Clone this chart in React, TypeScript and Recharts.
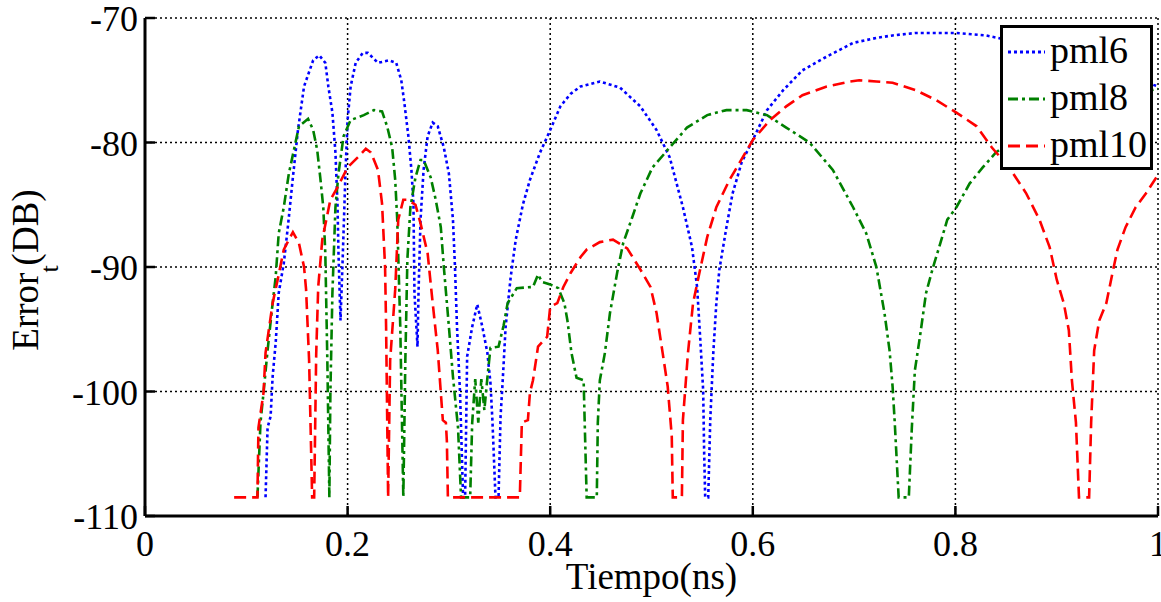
import React from 'react';
import { LineChart, Line, XAxis, YAxis, CartesianGrid, Legend, Label } from 'recharts';

// ---- Data ----
const pml6X = [0.119, 0.121, 0.124, 0.126, 0.129, 0.132, 0.137, 0.141, 0.146, 0.151, 0.157, 0.166, 0.172, 0.178, 0.181, 0.185, 0.188, 0.190, 0.191, 0.193, 0.195, 0.198, 0.2, 0.203, 0.208, 0.215, 0.220, 0.230, 0.241, 0.248, 0.253, 0.256, 0.260, 0.263, 0.265, 0.266, 0.269, 0.270, 0.272, 0.275, 0.279, 0.284, 0.289, 0.295, 0.300, 0.304, 0.306, 0.308, 0.311, 0.314, 0.316, 0.318, 0.323, 0.328, 0.333, 0.338, 0.341, 0.343, 0.346, 0.349, 0.351, 0.353, 0.356, 0.361, 0.366, 0.373, 0.380, 0.390, 0.400, 0.410, 0.420, 0.430, 0.449, 0.469, 0.489, 0.505, 0.518, 0.531, 0.540, 0.545, 0.548, 0.551, 0.552, 0.553, 0.556, 0.558, 0.561, 0.564, 0.567, 0.574, 0.580, 0.589, 0.600, 0.614, 0.630, 0.649, 0.673, 0.699, 0.722, 0.738, 0.761, 0.801, 0.830, 0.842, 0.870, 0.900, 0.930, 0.960, 1.0];
const pml6Y = [-108.5, -102.9, -102, -98.8, -96.1, -92.1, -89.7, -86.8, -82.8, -79, -75.5, -73.4, -73, -73.6, -75.5, -77.6, -80.8, -84.9, -88.9, -94.3, -89.7, -82.2, -78.2, -75.5, -73.6, -72.8, -72.8, -73.6, -73.4, -73.6, -75, -76.8, -79.5, -82.2, -84.9, -92.1, -96.4, -92.1, -86.2, -82.2, -79.5, -78.4, -78.7, -80.4, -82.5, -86.2, -90, -94.8, -100.1, -108.5, -108.5, -97.2, -94.8, -93, -94.8, -96.9, -99.3, -102.4, -108.5, -108.5, -102, -99.3, -94.8, -90.8, -87.8, -85, -83, -80.8, -79, -77.1, -76.1, -75.5, -75.1, -75.6, -77.1, -79, -81.2, -85.2, -88.4, -91.6, -95.6, -99.9, -105, -108.5, -108.5, -102.3, -96.9, -92.9, -90.2, -86.8, -84.1, -81.6, -79.8, -77.4, -75.8, -74.2, -73.1, -72, -71.6, -71.4, -71.2, -71.2, -71.4, -71.6, -72.1, -72.8, -73.6, -74.4, -75.5];

const pml8X = [0.111, 0.114, 0.117, 0.121, 0.126, 0.129, 0.132, 0.137, 0.142, 0.147, 0.152, 0.161, 0.166, 0.170, 0.173, 0.176, 0.178, 0.180, 0.182, 0.183, 0.185, 0.188, 0.191, 0.196, 0.203, 0.216, 0.226, 0.234, 0.239, 0.244, 0.247, 0.249, 0.252, 0.255, 0.257, 0.259, 0.262, 0.267, 0.272, 0.275, 0.282, 0.287, 0.292, 0.295, 0.300, 0.304, 0.309, 0.312, 0.321, 0.323, 0.326, 0.329, 0.332, 0.335, 0.338, 0.341, 0.349, 0.354, 0.358, 0.367, 0.383, 0.388, 0.392, 0.400, 0.408, 0.414, 0.417, 0.421, 0.426, 0.433, 0.434, 0.436, 0.446, 0.447, 0.449, 0.454, 0.459, 0.466, 0.472, 0.481, 0.489, 0.501, 0.518, 0.535, 0.555, 0.574, 0.594, 0.614, 0.633, 0.656, 0.679, 0.699, 0.712, 0.722, 0.730, 0.735, 0.738, 0.740, 0.744, 0.754, 0.757, 0.760, 0.765, 0.771, 0.778, 0.784, 0.792, 0.801, 0.814, 0.827, 0.840, 0.870, 0.900, 0.950, 1.0];
const pml8Y = [-108.5, -102.5, -100.1, -96.7, -92.9, -90.8, -87.3, -85.2, -82.5, -80.6, -78.7, -78.1, -79, -80.6, -82.8, -85.2, -88.9, -97.5, -108.5, -100.1, -92.1, -85.2, -82.5, -79.5, -78.2, -77.8, -77.4, -77.5, -78.7, -80.4, -83, -86.2, -94.8, -108.5, -97.5, -89.4, -85.2, -82.8, -81.4, -81.4, -82.8, -84.6, -86.8, -90, -94.8, -98.8, -102.9, -108.5, -108.5, -102.5, -99, -102.5, -99, -101.5, -98.9, -96.5, -96.4, -94.7, -92.9, -91.7, -91.6, -90.6, -91.2, -91.4, -91.7, -92.9, -94.3, -96.9, -98.9, -99.1, -102.3, -108.5, -108.5, -102.5, -99.1, -96.9, -93.7, -90.5, -88.1, -86, -84.1, -82, -80.4, -78.8, -77.8, -77.4, -77.4, -77.8, -78.8, -80, -82.2, -85.2, -87.3, -90, -93.7, -96.7, -99.6, -102.3, -108.5, -108.5, -102.9, -98.3, -95.6, -92.1, -90, -88.4, -86.2, -85.2, -83.3, -82, -80.8, -79, -77.8, -76.5, -75.7];

const pml10X = [0.088, 0.111, 0.112, 0.117, 0.119, 0.126, 0.131, 0.137, 0.146, 0.152, 0.157, 0.159, 0.162, 0.165, 0.167, 0.169, 0.171, 0.175, 0.183, 0.190, 0.2, 0.210, 0.218, 0.223, 0.230, 0.234, 0.237, 0.238, 0.240, 0.242, 0.247, 0.25, 0.255, 0.259, 0.267, 0.272, 0.279, 0.284, 0.289, 0.294, 0.297, 0.298, 0.299, 0.370, 0.372, 0.378, 0.380, 0.383, 0.388, 0.397, 0.400, 0.407, 0.413, 0.420, 0.430, 0.436, 0.449, 0.462, 0.476, 0.489, 0.499, 0.505, 0.511, 0.516, 0.520, 0.521, 0.530, 0.531, 0.536, 0.541, 0.548, 0.555, 0.564, 0.577, 0.590, 0.600, 0.617, 0.633, 0.649, 0.673, 0.696, 0.705, 0.722, 0.738, 0.761, 0.781, 0.801, 0.821, 0.836, 0.853, 0.870, 0.883, 0.893, 0.900, 0.907, 0.912, 0.915, 0.919, 0.922, 0.932, 0.934, 0.937, 0.942, 0.949, 0.955, 0.960, 0.968, 0.978, 0.988, 1.0];
const pml10Y = [-108.5, -108.5, -102.9, -100.1, -96.9, -92.9, -91, -88.6, -87.2, -88.1, -90, -91.8, -97.5, -108.5, -108.5, -97, -91.6, -87.8, -84.6, -83.6, -82, -81.2, -80.5, -80.8, -82.2, -84.9, -90, -94.8, -108.5, -97.5, -91.8, -86.2, -84.6, -84.6, -85, -86.5, -88.9, -92.9, -96.7, -102.3, -102.5, -104, -108.5, -108.5, -102.5, -102.3, -100.1, -99.1, -96.4, -95.6, -93.2, -92.9, -91.6, -90.5, -89.2, -88.6, -88, -87.8, -88.5, -90.2, -91.6, -93.7, -96.9, -99.6, -103.6, -108.5, -108.5, -102.3, -96.9, -92.9, -90.2, -87.6, -85.2, -83, -81.2, -79.8, -78.2, -77.1, -76.2, -75.5, -75.1, -75, -75.1, -75.2, -75.8, -76.6, -77.6, -78.7, -80.4, -82, -84.1, -86.2, -88.4, -91, -92.9, -95.1, -99.1, -102.5, -108.5, -108.5, -102.5, -96.7, -94.3, -92.9, -90.5, -88.6, -86.8, -85.2, -84.1, -82.6];

const seriesNames = ['pml6', 'pml8', 'pml10'];
const seriesColors = ['#0000ff', '#008000', '#ff0000'];
const seriesDashes = ['3 3', '10 4 3 4', '12 6'];

const xTicks = [0, 0.2, 0.4, 0.6, 0.8, 1];
const xTickLabels = ['0', '0.2', '0.4', '0.6', '0.8', '1'];
const yTicks = [-110, -100, -90, -80, -70];
const yTickLabels = ['-110', '-100', '-90', '-80', '-70'];

const xTitle = 'Tiempo(ns)';
const yTitleMain = 'Error';
const yTitleSub = 't';
const yTitleTail = '(DB)';

const toData = (xs: number[], ys: number[]) => xs.map((x, i) => ({ x, y: ys[i] }));
const seriesData = [toData(pml6X, pml6Y), toData(pml8X, pml8Y), toData(pml10X, pml10Y)];

const FONT = "'Liberation Serif', 'Times New Roman', serif";
const textStyle: React.CSSProperties = { fontFamily: FONT };

const labelFor = (v: number, ticks: number[], labels: string[]) => {
  const i = ticks.findIndex((t) => Math.abs(t - v) < 1e-9);
  return i >= 0 ? labels[i] : String(v);
};

const BottomTick = (props: any) => {
  const { x, y, payload } = props;
  return (
    <g>
      <line x1={x} y1={y} x2={x} y2={y - 10} stroke="#000" strokeWidth={2.5} />
      <text x={x} y={y + 40} textAnchor="middle" style={textStyle} fontSize={36} fill="#000">
        {labelFor(payload.value, xTicks, xTickLabels)}
      </text>
    </g>
  );
};

const TopTick = (props: any) => {
  const { x, y } = props;
  return <line x1={x} y1={y} x2={x} y2={y + 10} stroke="#000" strokeWidth={2.5} />;
};

const LeftTick = (props: any) => {
  const { x, y, payload } = props;
  return (
    <g>
      <line x1={x} y1={y} x2={x + 10} y2={y} stroke="#000" strokeWidth={2.5} />
      <text x={x - 7} y={y + 13} textAnchor="end" style={textStyle} fontSize={36} fill="#000">
        {labelFor(payload.value, yTicks, yTickLabels)}
      </text>
    </g>
  );
};

const RightTick = (props: any) => {
  const { x, y } = props;
  return <line x1={x} y1={y} x2={x - 10} y2={y} stroke="#000" strokeWidth={2.5} />;
};

const YTitle = (props: any) => {
  const vb = props.viewBox || { x: 0, y: 18, width: 145, height: 498 };
  const cx = vb.x + 38;
  const cy = vb.y + vb.height / 2 + 3;
  return (
    <text
      transform={`translate(${cx}, ${cy}) rotate(-90)`}
      textAnchor="middle"
      style={textStyle}
      fontSize={37}
      fill="#000"
    >
      {yTitleMain}
      <tspan dy={20} fontSize={26}>{yTitleSub}</tspan>
      <tspan dy={-20}>{yTitleTail}</tspan>
    </text>
  );
};

const XTitle = (props: any) => {
  const vb = props.viewBox || { x: 145, y: 516, width: 1013, height: 86 };
  return (
    <text x={vb.x + vb.width / 2} y={vb.y + 73} textAnchor="middle" style={textStyle} fontSize={37} fill="#000">
      {xTitle}
    </text>
  );
};

const LegendBox = () => (
  <svg width={153} height={145} style={{ display: 'block' }}>
    <rect x={1.5} y={1.5} width={150} height={142} fill="#fff" stroke="#000" strokeWidth={3} />
    {seriesNames.map((n, i) => (
      <g key={n}>
        <line
          x1={8}
          x2={45}
          y1={27 + i * 47}
          y2={27 + i * 47}
          stroke={seriesColors[i]}
          strokeWidth={3}
          strokeDasharray={seriesDashes[i]}
        />
        <text x={50} y={38 + i * 47} style={textStyle} fontSize={38} fill="#000">
          {n}
        </text>
      </g>
    ))}
  </svg>
);

export default function App() {
  return (
    <div>
      <style>{`html,body{margin:0;padding:0;overflow:hidden;background:#fff;}`}</style>
      <LineChart
        width={1161}
        height={602}
        margin={{ top: 18, right: 3, bottom: 0, left: 0 }}
        style={{ fontFamily: FONT }}
      >
        <CartesianGrid stroke="#000" strokeDasharray="2 3" strokeWidth={1.5} />
        <XAxis
          dataKey="x"
          type="number"
          domain={[0, 1]}
          ticks={xTicks}
          allowDataOverflow
          height={86}
          tickSize={0}
          tickMargin={0}
          tickLine={false}
          axisLine={{ stroke: '#000', strokeWidth: 3 }}
          tick={<BottomTick />}
          interval={0}
        >
          <Label content={<XTitle />} />
        </XAxis>
        <XAxis
          xAxisId="top"
          orientation="top"
          dataKey="x"
          type="number"
          domain={[0, 1]}
          ticks={xTicks}
          allowDataOverflow
          height={0}
          tickSize={0}
          tickMargin={0}
          tickLine={false}
          axisLine={{ stroke: '#000', strokeWidth: 3 }}
          tick={<TopTick />}
          interval={0}
        />
        <YAxis
          type="number"
          domain={[-110, -70]}
          ticks={yTicks}
          allowDataOverflow
          width={145}
          tickSize={0}
          tickMargin={0}
          tickLine={false}
          axisLine={{ stroke: '#000', strokeWidth: 3 }}
          tick={<LeftTick />}
          interval={0}
        >
          <Label content={<YTitle />} />
        </YAxis>
        <YAxis
          yAxisId="right"
          orientation="right"
          type="number"
          domain={[-110, -70]}
          ticks={yTicks}
          allowDataOverflow
          width={0}
          tickSize={0}
          tickMargin={0}
          tickLine={false}
          axisLine={{ stroke: '#000', strokeWidth: 3 }}
          tick={<RightTick />}
          interval={0}
        />
        {seriesData.map((d, i) => (
          <Line
            key={seriesNames[i]}
            data={d}
            dataKey="y"
            name={seriesNames[i]}
            type="linear"
            stroke={seriesColors[i]}
            strokeWidth={2.6}
            strokeDasharray={seriesDashes[i]}
            dot={false}
            activeDot={false}
            isAnimationActive={false}
          />
        ))}
        <Legend
          layout="horizontal"
          verticalAlign="middle"
          align="center"
          content={<LegendBox />}
          wrapperStyle={{ left: 1000, top: 25, width: 153, height: 145, right: 'auto', bottom: 'auto' }}
        />
      </LineChart>
    </div>
  );
}
